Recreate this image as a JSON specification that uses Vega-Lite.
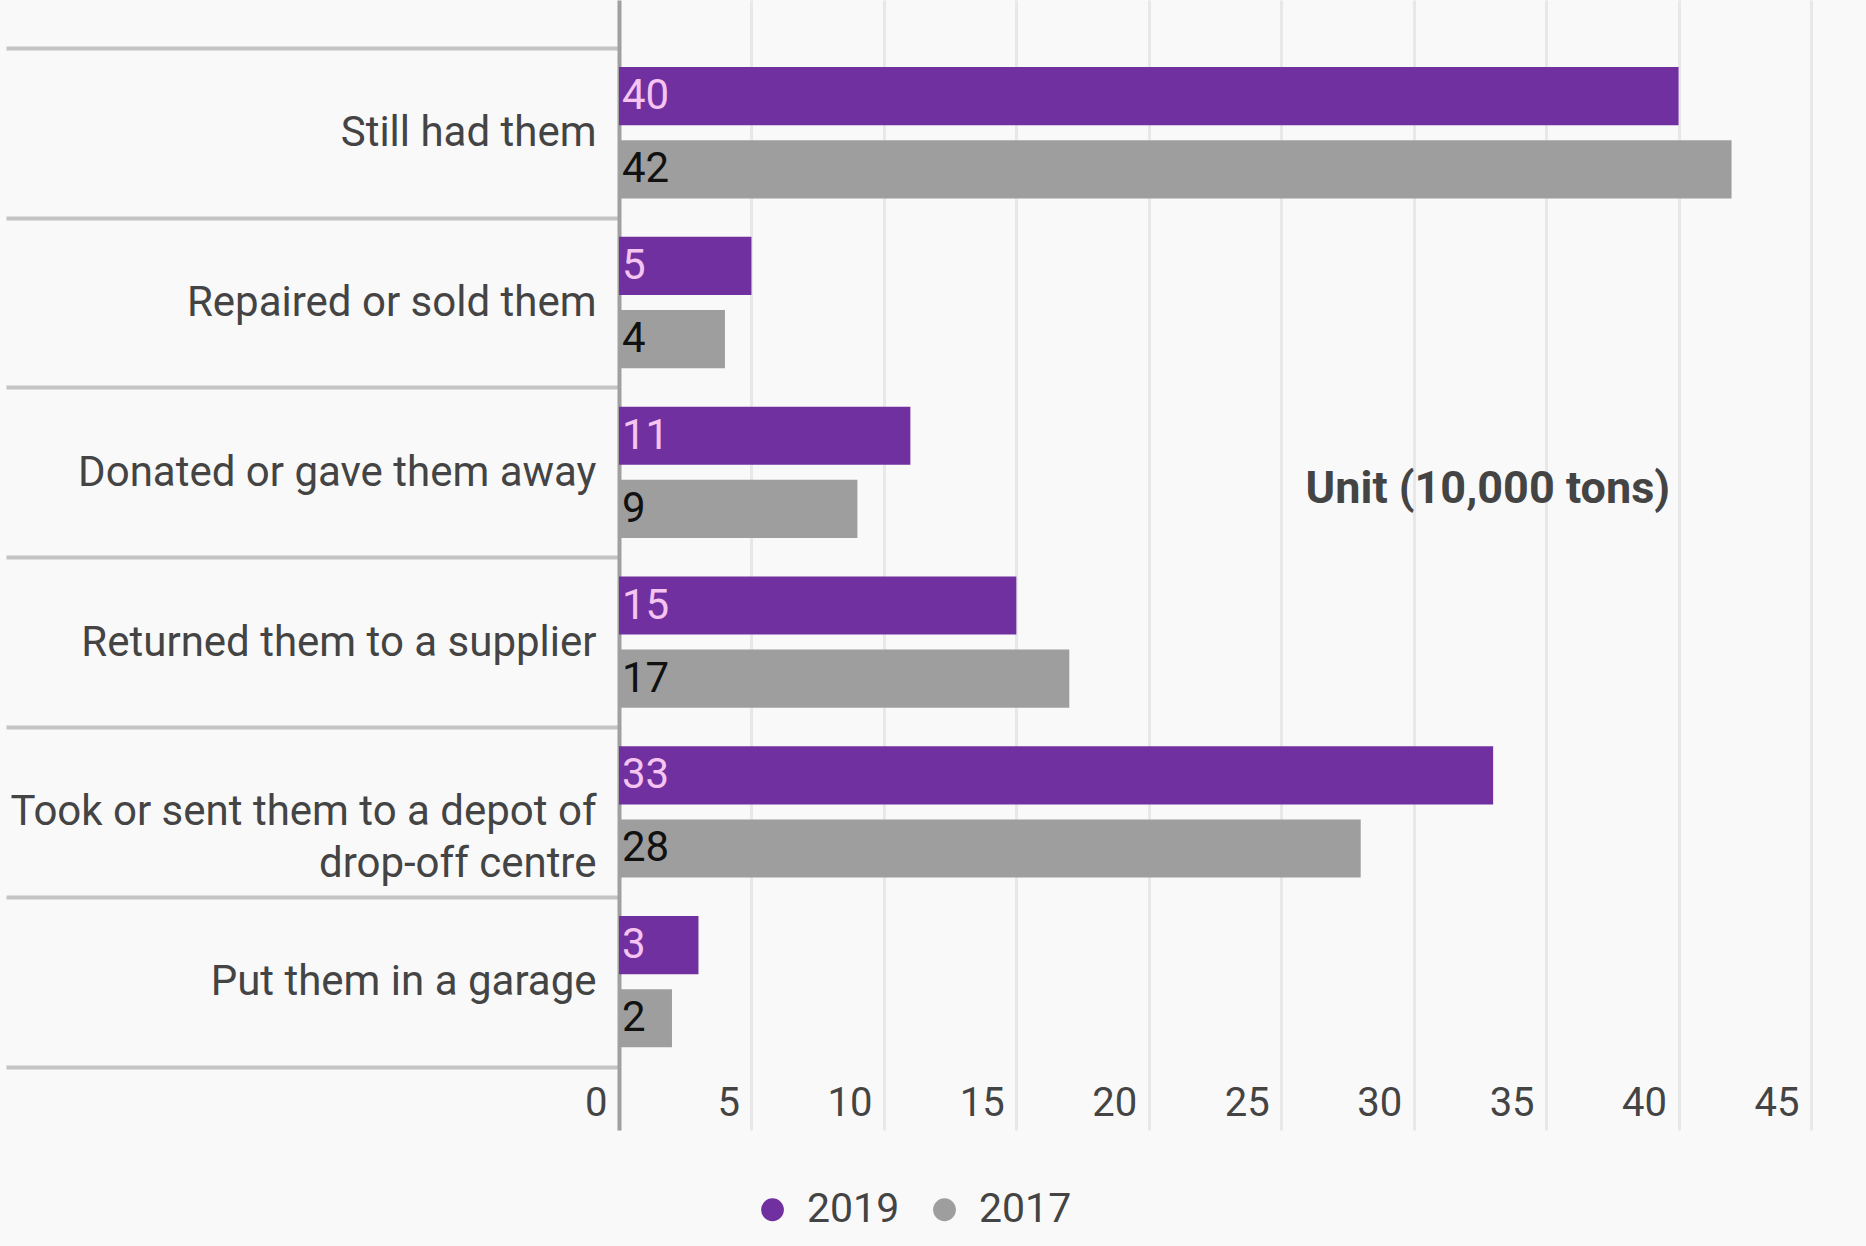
{
  "$schema": "https://vega.github.io/schema/vega-lite/v6.json",
  "autosize": {"type": "none"},
  "padding": {"left": 619, "top": 0, "right": 55, "bottom": 116},
  "width": 1192,
  "height": 1130,
  "background": "#f9f9f9",
  "datasets": {
    "main": [
      {"category": "Still had them", "year": "2019", "value": 40},
      {"category": "Still had them", "year": "2017", "value": 42},
      {"category": "Repaired or sold them", "year": "2019", "value": 5},
      {"category": "Repaired or sold them", "year": "2017", "value": 4},
      {"category": "Donated or gave them away", "year": "2019", "value": 11},
      {"category": "Donated or gave them away", "year": "2017", "value": 9},
      {"category": "Returned them to a supplier", "year": "2019", "value": 15},
      {"category": "Returned them to a supplier", "year": "2017", "value": 17},
      {"category": "Took or sent them to a depot of drop-off centre", "year": "2019", "value": 33},
      {"category": "Took or sent them to a depot of drop-off centre", "year": "2017", "value": 28},
      {"category": "Put them in a garage", "year": "2019", "value": 3},
      {"category": "Put them in a garage", "year": "2017", "value": 2}
    ],
    "note": [
      {"category": "Donated or gave them away", "value": 32.8, "label": "Unit (10,000 tons)"}
    ]
  },
  "config": {
    "view": {"stroke": null, "fill": "#f9f9f9"},
    "font": "Roboto"
  },
  "layer": [
    {
      "data": {"name": "main"},
      "mark": {"type": "bar"},
      "encoding": {
        "y": {
          "field": "category", "type": "nominal", "sort": null, "title": null,
          "scale": {"paddingInner": 0, "paddingOuter": 0.3275, "align": 0.43},
          "axis": {
            "tickBand": "extent", "tickSize": 613, "tickWidth": 4, "tickColor": "#c4c4c4",
            "domainColor": "#a0a0a0", "domainWidth": 4,
            "labelPadding": -590, "labelFontSize": 42, "labelColor": "#444444",
            "labelFont": "Roboto", "labelLimit": 0, "labelLineHeight": 52,
            "labelExpr": "datum.label == 'Took or sent them to a depot of drop-off centre' ? ['Took or sent them to a depot of', 'drop-off centre'] : datum.label"
          }
        },
        "yOffset": {
          "field": "year", "type": "nominal", "sort": ["2019", "2017"],
          "scale": {"paddingInner": 0.205, "paddingOuter": 0.263}
        },
        "x": {
          "field": "value", "type": "quantitative", "title": null,
          "scale": {"domain": [0, 45], "nice": false},
          "axis": {
            "values": [0, 5, 10, 15, 20, 25, 30, 35, 40, 45],
            "orient": "bottom", "offset": -27, "domain": false, "ticks": false,
            "grid": true, "gridColor": "#e8e8e8", "gridWidth": 3,
            "labelAlign": "right", "labelBaseline": "middle", "labelPadding": 0,
            "labelOffset": -12, "labelFontSize": 40, "labelColor": "#444444",
            "labelFont": "Roboto"
          }
        },
        "color": {
          "field": "year", "type": "nominal", "title": null,
          "scale": {"domain": ["2019", "2017"], "range": ["#7030a0", "#9e9e9e"]},
          "legend": {
            "orient": "none", "legendX": 133, "legendY": 1189, "direction": "horizontal",
            "symbolType": "circle", "symbolSize": 520, "symbolStrokeWidth": 0,
            "labelFontSize": 41, "labelColor": "#444444", "labelFont": "Roboto",
            "labelOffset": 14, "columnPadding": 24
          }
        }
      }
    },
    {
      "data": {"name": "main"},
      "mark": {"type": "text", "align": "left", "baseline": "middle", "dx": 3, "fontSize": 42, "font": "Roboto"},
      "encoding": {
        "y": {"field": "category", "type": "nominal", "sort": null},
        "yOffset": {"field": "year", "type": "nominal", "sort": ["2019", "2017"]},
        "x": {"datum": 0},
        "text": {"field": "value", "type": "quantitative"},
        "color": {"condition": {"test": "datum.year == '2019'", "value": "#f6c4f0"}, "value": "#111111"}
      }
    },
    {
      "data": {"name": "note"},
      "mark": {"type": "text", "align": "center", "baseline": "middle", "dy": 17, "fontSize": 45, "fontWeight": "bold", "font": "Roboto", "color": "#444444"},
      "encoding": {
        "y": {"field": "category", "type": "nominal", "sort": null},
        "x": {"field": "value", "type": "quantitative"},
        "text": {"field": "label"}
      }
    }
  ]
}
